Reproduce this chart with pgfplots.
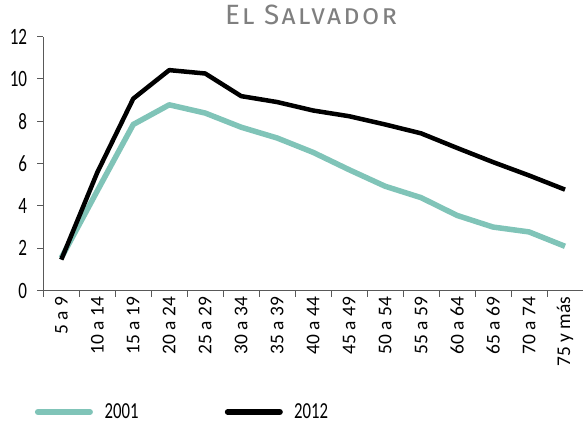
\documentclass[border=0pt]{standalone}
\usepackage{pgfplots}
\pgfplotsset{compat=1.18}
\usepackage{fontspec}
\setmainfont{Carlito}
\newfontfamily\condfont{Carlito}[FakeStretch=0.73]
\newfontfamily\titlefont{Fira Sans}[Letters=SmallCaps, LetterSpace=8]
\definecolor{teal2001}{HTML}{80C4B8}
\definecolor{axisgray}{HTML}{595959}
\definecolor{titlegray}{HTML}{7F7F7F}
\begin{document}
\begin{tikzpicture}
\useasboundingbox (-43.3bp,-134.5bp) rectangle (539.7bp,290.5bp);
\begin{axis}[
  at={(0,0)}, anchor=south west, scale only axis,
  width=539.7bp, height=253.8bp,
  xmin=-0.5, xmax=14.5, ymin=0, ymax=12,
  clip=false,
  axis x line*=bottom, axis y line*=left,
  axis line style={axisgray, line width=1bp},
  xtick={-0.5,0.5,...,14.5},
  xticklabels={,,,,,,,,,,,,,,,},
  extra x ticks={0,...,14},
  extra x tick labels={5 a 9,10 a 14,15 a 19,20 a 24,25 a 29,30 a 34,35 a 39,40 a 44,45 a 49,50 a 54,55 a 59,60 a 64,65 a 69,70 a 74,75 y más},
  extra x tick style={major tick length=0pt, xticklabel style={rotate=90, anchor=east, inner sep=0pt, font=\fontsize{19.5}{20}\selectfont, xshift=-6bp}},
  ytick={0,2,...,12},
  major tick length=6bp,
  tick align=outside,
  tick style={axisgray, line width=1bp},
  yticklabel style={inner sep=0pt, font=\condfont\fontsize{23.5}{24}\selectfont, xshift=-10bp},
  /pgf/number format/assume math mode=true,
  title={El Salvador},
  title style={at={(0.4923,1)}, anchor=base, yshift=6.7bp, xshift=2bp, inner sep=0pt, font=\titlefont\fontsize{28}{28}\selectfont, text=titlegray},
  legend columns=2,
  legend style={at={(-0.021,-0.4787)}, anchor=west, draw=none, fill=none, inner sep=0pt,
    font=\condfont\fontsize{23}{24}\selectfont,
    nodes={inner sep=0pt},
    /tikz/every odd column/.append style={column sep=9bp},
    /tikz/every even column/.append style={column sep=84bp}},
  legend image code/.code={\path (0bp,0bp) (58bp,0bp); \draw[#1, line width=6bp, line cap=round] (3bp,0bp) -- (55bp,0bp);},
]
\addplot[teal2001, line width=5.5bp, line join=round] coordinates {
(0,1.54) (1,4.71) (2,7.85) (3,8.78) (4,8.39) (5,7.72) (6,7.21) (7,6.53) (8,5.71) (9,4.93) (10,4.39) (11,3.55) (12,3.00) (13,2.77) (14,2.09)};
\addlegendentry{2001}
\addplot[black, line width=4.5bp, line join=round] coordinates {
(0,1.46) (1,5.58) (2,9.07) (3,10.42) (4,10.26) (5,9.19) (6,8.91) (7,8.51) (8,8.24) (9,7.85) (10,7.43) (11,6.74) (12,6.07) (13,5.44) (14,4.77)};
\addlegendentry{2012}
\end{axis}
\end{tikzpicture}
\end{document}
